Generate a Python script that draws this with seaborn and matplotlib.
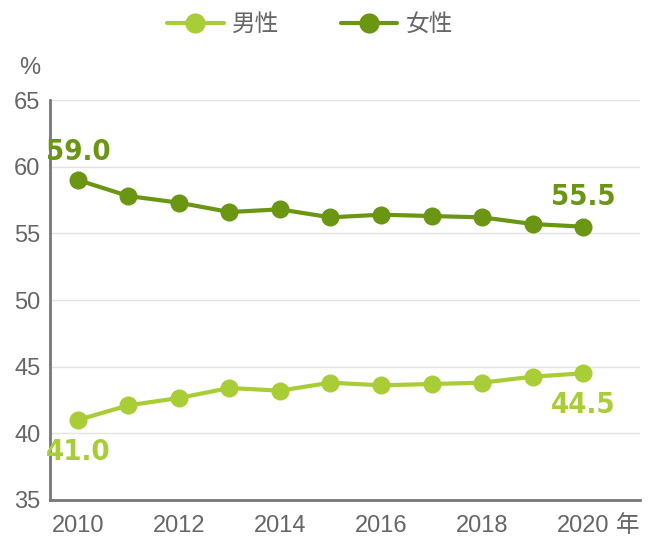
import matplotlib
matplotlib.use("Agg")
import matplotlib.pyplot as plt
import seaborn as sns
import pandas as pd

years = list(range(2010, 2021))
male = [41.0, 42.1, 42.65, 43.4, 43.2, 43.8, 43.6, 43.7, 43.8, 44.25, 44.5]
female = [59.0, 57.8, 57.3, 56.6, 56.8, 56.2, 56.4, 56.3, 56.2, 55.7, 55.5]
series = ["男性", "女性"]
colors = {"男性": "#a9cd37", "女性": "#6a9614"}

df = pd.DataFrame({
    "year": years * 2,
    "value": male + female,
    "sex": [series[0]] * len(years) + [series[1]] * len(years),
})

sns.set_style("white")
plt.rcParams['font.family'] = ['Liberation Sans', 'Noto Sans CJK JP', 'DejaVu Sans']

fig = plt.figure(figsize=(6.54, 5.39), dpi=100)
ax = fig.add_axes([0.0765, 0.0724, 0.9025, 0.742])

sns.lineplot(data=df, x="year", y="value", hue="sex", palette=colors,
             marker="o", markersize=13, markeredgewidth=0, linewidth=3,
             ax=ax, legend=False)

ax.set_xlim(2009.45, 2021.13)
ax.set_ylim(35, 65)
ax.set_xticks(range(2010, 2021, 2))
ax.set_yticks(range(35, 66, 5))
ax.grid(axis="y", color="#e3e3e3", linewidth=1)
ax.set_axisbelow(True)
ax.tick_params(axis="both", length=0, labelsize=17, labelcolor="#666666")
ax.tick_params(axis="y", pad=7)
ax.tick_params(axis="x", pad=11)
ax.set_xlabel("")
ax.set_ylabel("")
for s in ["top", "right"]:
    ax.spines[s].set_visible(False)
for s in ["left", "bottom"]:
    ax.spines[s].set_color("#777777")
    ax.spines[s].set_linewidth(2)

fig.text(30 / 654, 1 - 68 / 539, "%", fontsize=17, color="#666666", ha="center", va="center")
fig.text(628 / 654, 1 - 526 / 539, "年", fontsize=17, color="#666666", ha="center", va="center")

# end-point value labels
lab_font = dict(family=['DejaVu Sans'], fontstretch="condensed", fontweight="bold", fontsize=21)
ax.annotate(f"{female[0]:.1f}", (years[0], female[0]), xytext=(0, 10), textcoords="offset points",
            ha="center", va="bottom", color=colors["女性"], **lab_font)
ax.annotate(f"{female[-1]:.1f}", (years[-1], female[-1]), xytext=(0, 11), textcoords="offset points",
            ha="center", va="bottom", color=colors["女性"], **lab_font)
ax.annotate(f"{male[0]:.1f}", (years[0], male[0]), xytext=(0, -13), textcoords="offset points",
            ha="center", va="top", color=colors["男性"], **lab_font)
ax.annotate(f"{male[-1]:.1f}", (years[-1], male[-1]), xytext=(0, -13), textcoords="offset points",
            ha="center", va="top", color=colors["男性"], **lab_font)

handles = [plt.Line2D([], [], color=colors[s], marker="o", markersize=14.5, markeredgewidth=0, linewidth=3)
           for s in series]
fig.legend(handles, series, loc="center", bbox_to_anchor=(310 / 654, 1 - 25 / 539), ncol=2,
           frameon=False, fontsize=17, labelcolor="#666666", handlelength=2.4,
           columnspacing=2.6, handletextpad=0.35)

fig.savefig("out.png", dpi=100)
